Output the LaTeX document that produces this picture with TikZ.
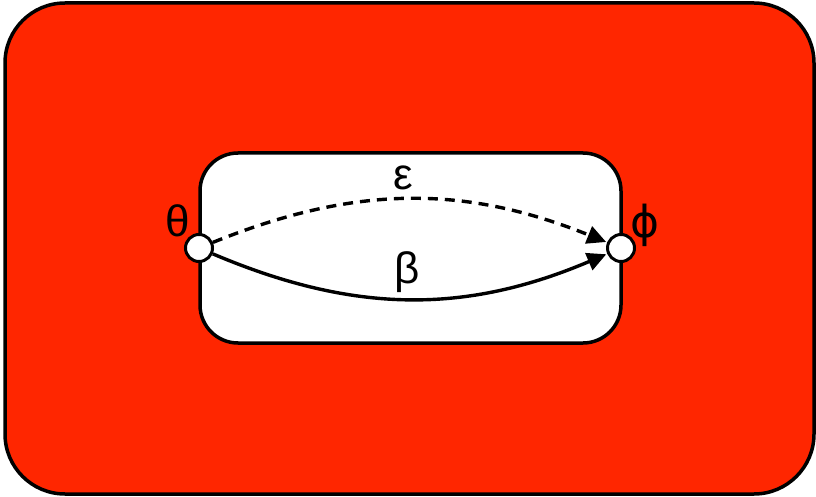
\documentclass[tikz,border=0pt]{standalone}
\usepackage{fontspec}
\setmainfont{Liberation Sans}
\newfontfamily\symfont{DejaVu Sans}
\usetikzlibrary{arrows.meta}
\definecolor{bgred}{HTML}{FF2600}
\tikzset{
  frame/.style={draw=black, line width=3.5pt},
  port/.style={circle, draw=black, fill=white, line width=3pt, minimum size=27pt, inner sep=0pt},
  lbl/.style={font=\fontsize{44}{44}\selectfont, inner sep=0pt},
  conn/.style={line width=3.4pt, -{Triangle[length=19pt,width=18pt]}, shorten >=1pt},
}
\begin{document}
\begin{tikzpicture}[x=1pt,y=-1pt]
\useasboundingbox (0,0) rectangle (816,497);
\draw[frame, fill=bgred, rounded corners=60pt] (5,3) rectangle (814,494);
\draw[frame, fill=white, rounded corners=38pt] (200,153) rectangle (621,343);
\node[port] (t) at (199,248) {};
\node[port] (p) at (621,248) {};
\node[lbl] (lt) at (178,221) {θ};
\node[lbl] (lp) at (645,225) {\symfont ϕ};
\node[lbl] (le) at (403,178) {ε};
\node[lbl] (lb) at (407,272) {β};
\draw[conn, dash pattern=on 10pt off 7pt] (t) to[bend left=22] (p);
\draw[conn] (t) to[bend right=23] (p);
\end{tikzpicture}
\end{document}
